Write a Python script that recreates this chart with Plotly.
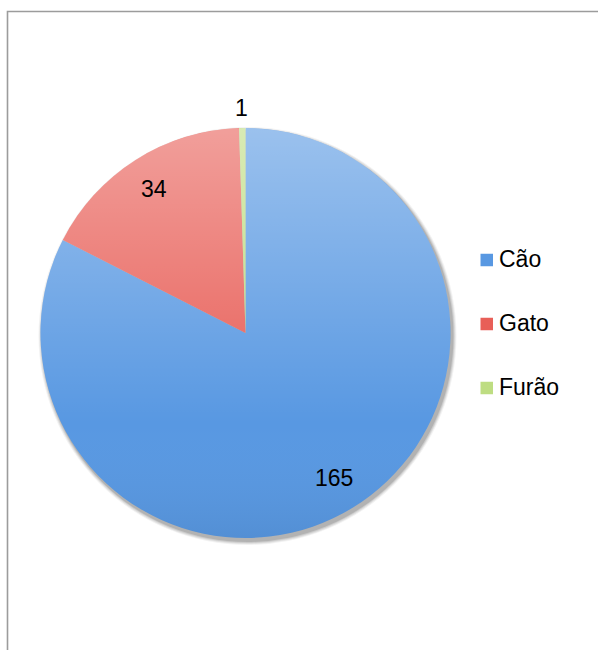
import base64
import math
import plotly.graph_objects as go

# Animais de estimação
labels = ["Cão", "Gato", "Furão"]
values = [165, 34, 1]
colors = ["#5898e2", "#e85f58", "#bedd82"]

W, H = 598, 650
CX, CY, R = 245.5, 333, 205          # pie centre and radius in pixels
FONT = dict(family="Arial, Liberation Sans, sans-serif", size=23, color="#000000")


def px(x):
    return x / W


def py(y):
    return 1 - y / H


fig = go.Figure()

fig.add_trace(go.Pie(
    labels=labels,
    values=values,
    sort=False,
    direction="clockwise",
    rotation=0,
    marker=dict(colors=colors, line=dict(width=0)),
    textinfo="none",
    hoverinfo="label+value",
    showlegend=False,
    domain=dict(x=[px(CX - R), px(CX + R)], y=[py(CY + R), py(CY - R)]),
))

# soft drop shadow beneath the pie
shapes = []
for grow, op in [(4, 0.05), (3, 0.07), (2, 0.09), (1, 0.12)]:
    ox, oy = 2, 3
    shapes.append(dict(
        type="circle", xref="paper", yref="paper", layer="below",
        x0=px(CX - R - grow + ox), x1=px(CX + R + grow + ox),
        y0=py(CY + R + grow + oy), y1=py(CY - R - grow + oy),
        fillcolor=f"rgba(0,0,0,{op})", line=dict(width=0),
    ))

# chart frame
shapes.append(dict(
    type="rect", xref="paper", yref="paper", layer="above",
    x0=px(7.5), x1=1.05, y0=-0.05, y1=py(11.5),
    line=dict(color="#9c9c9c", width=1.6), fillcolor="rgba(0,0,0,0)",
))

# vertical shading over the pie surface
svg = (
    '<svg xmlns="http://www.w3.org/2000/svg" width="410" height="410" viewBox="0 0 410 410">'
    '<defs><linearGradient id="g" x1="0" y1="0" x2="0" y2="1">'
    '<stop offset="0" stop-color="#ffffff" stop-opacity="0.40"/>'
    '<stop offset="0.72" stop-color="#ffffff" stop-opacity="0"/>'
    '<stop offset="1" stop-color="#000000" stop-opacity="0.06"/>'
    '</linearGradient></defs>'
    '<circle cx="205" cy="205" r="205" fill="url(#g)"/></svg>'
)
uri = "data:image/svg+xml;base64," + base64.b64encode(svg.encode()).decode()
images = [dict(
    source=uri, xref="paper", yref="paper", layer="above",
    x=px(CX - R), y=py(CY - R), sizex=px(2 * R), sizey=2 * R / H,
    xanchor="left", yanchor="top", sizing="stretch",
)]

# value labels placed along each slice's mid-angle
annotations = []
total = sum(values)
start = 0.0
for lab, val in zip(labels, values):
    share = val / total
    mid = (start + share / 2) * 2 * math.pi
    start += share
    f = 0.83 if share > 0.05 else 1.10
    x = CX + f * R * math.sin(mid)
    y = CY - f * R * math.cos(mid)
    annotations.append(dict(
        x=px(x), y=py(y), xref="paper", yref="paper", text=str(val),
        showarrow=False, font=FONT, xanchor="center", yanchor="middle",
    ))

# legend on the right
LEG_X, LEG_Y0, LEG_STEP, SQ = 480.5, 260, 64, 12.5
for i, (lab, col) in enumerate(zip(labels, colors)):
    yc = LEG_Y0 + i * LEG_STEP
    shapes.append(dict(
        type="rect", xref="paper", yref="paper",
        x0=px(LEG_X), x1=px(LEG_X + SQ), y0=py(yc + SQ / 2), y1=py(yc - SQ / 2),
        fillcolor=col, line=dict(width=0),
    ))
    annotations.append(dict(
        x=px(LEG_X + SQ + 4), y=py(yc - 1), xref="paper", yref="paper", text=lab,
        showarrow=False, font=FONT, xanchor="left", yanchor="middle",
    ))

fig.update_layout(
    width=W, height=H,
    margin=dict(l=0, r=0, t=0, b=0),
    paper_bgcolor="#ffffff",
    plot_bgcolor="#ffffff",
    shapes=shapes,
    images=images,
    annotations=annotations,
    showlegend=False,
)

fig.write_html("out.html")
